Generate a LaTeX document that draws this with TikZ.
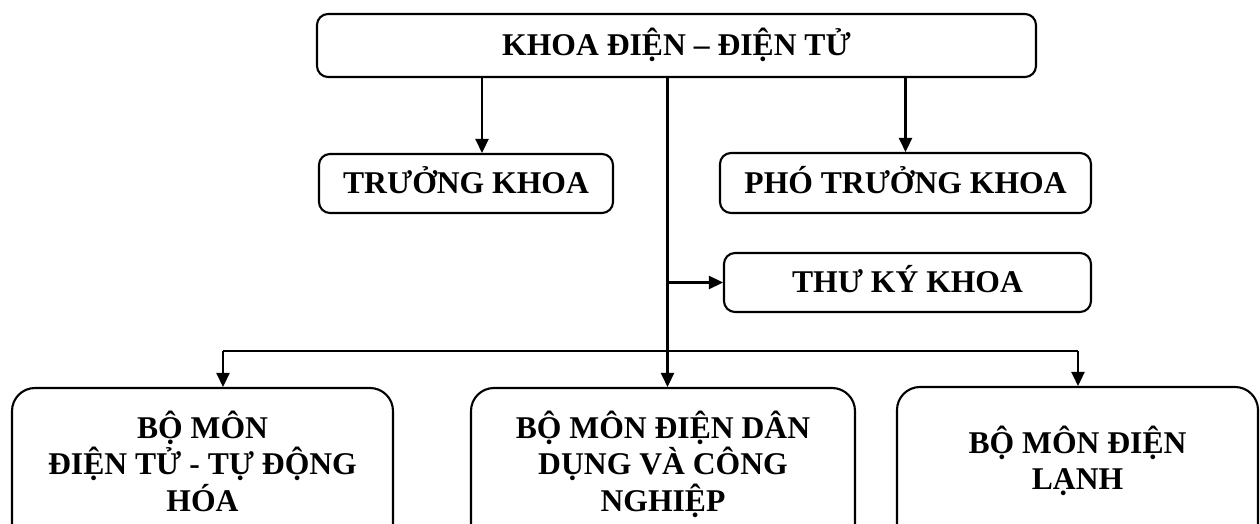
\documentclass[tikz,border=0pt]{standalone}
\usepackage{fontspec}
\setmainfont{Liberation Serif}
\usepackage{tikz}
\usetikzlibrary{arrows.meta}
\tikzstyle{ar} = [-{Triangle[length=8pt,width=7.5pt]}]
\tikzstyle{unit} = [draw, rounded corners=0.22cm, inner sep=0pt, font=\bfseries\fontsize{18}{20.7}\selectfont, text height=0.42cm, text depth=0pt]
\tikzstyle{dept} = [draw, rounded corners=0.46cm, inner sep=0pt, align=center, font=\bfseries\fontsize{18}{20.7}\selectfont]

\begin{document}
\begin{tikzpicture}[line width=1.2pt]
			\useasboundingbox (0,0) rectangle (25.2,10.48);
			\clip (0,0) rectangle (25.2,10.48);
			\node[unit, minimum width=14.38cm, minimum height=1.26cm] (khoa) at (13.53,9.57) {KHOA ĐIỆN – ĐIỆN TỬ};
			\node[unit, minimum width=5.88cm, minimum height=1.18cm] (truong) at (9.32,6.81) {TRƯỞNG KHOA};
			\node[unit, minimum width=7.42cm, minimum height=1.2cm] (pho) at (18.11,6.82) {PHÓ TRƯỞNG KHOA};
			\node[unit, minimum width=7.34cm, minimum height=1.18cm] (thuky) at (18.15,4.83) {THƯ KÝ KHOA};
			\node[dept, minimum width=7.62cm, minimum height=3.28cm] (tudong) at (4.05,1.08) {BỘ MÔN\\ĐIỆN TỬ - TỰ ĐỘNG\\HÓA\rule[-0.36cm]{0pt}{0pt}};
			\node[dept, minimum width=7.68cm, minimum height=3.28cm] (dandung) at (13.26,1.08) {BỘ MÔN ĐIỆN DÂN\\DỤNG VÀ CÔNG\\NGHIỆP\rule[-0.36cm]{0pt}{0pt}};
			\node[dept, minimum width=7.22cm, minimum height=3.3cm] (lanh) at (21.55,1.09) {BỘ MÔN ĐIỆN\\LẠNH\rule[-0.46cm]{0pt}{0pt}};
			\coordinate (trunk) at (13.35,0);
			\coordinate (left) at (9.64,0);
			\coordinate (busL) at (4.46,3.46);
			\coordinate (busR) at (21.56,3.46);
			\draw[ar] (khoa.south -| left) -- (truong.north -| left);
			\draw[ar] (khoa.south -| pho.north) -- (pho.north);
			\draw[ar] (khoa.south -| trunk) -- (dandung.north -| trunk);
			\draw[ar] (thuky.west -| trunk) -- (thuky.west);
			\draw (busL) -- (busR);
			\draw[ar] (busL) -- (busL |- tudong.north);
			\draw[ar] (busR) -- (busR |- lanh.north);
		\end{tikzpicture}
\end{document}
